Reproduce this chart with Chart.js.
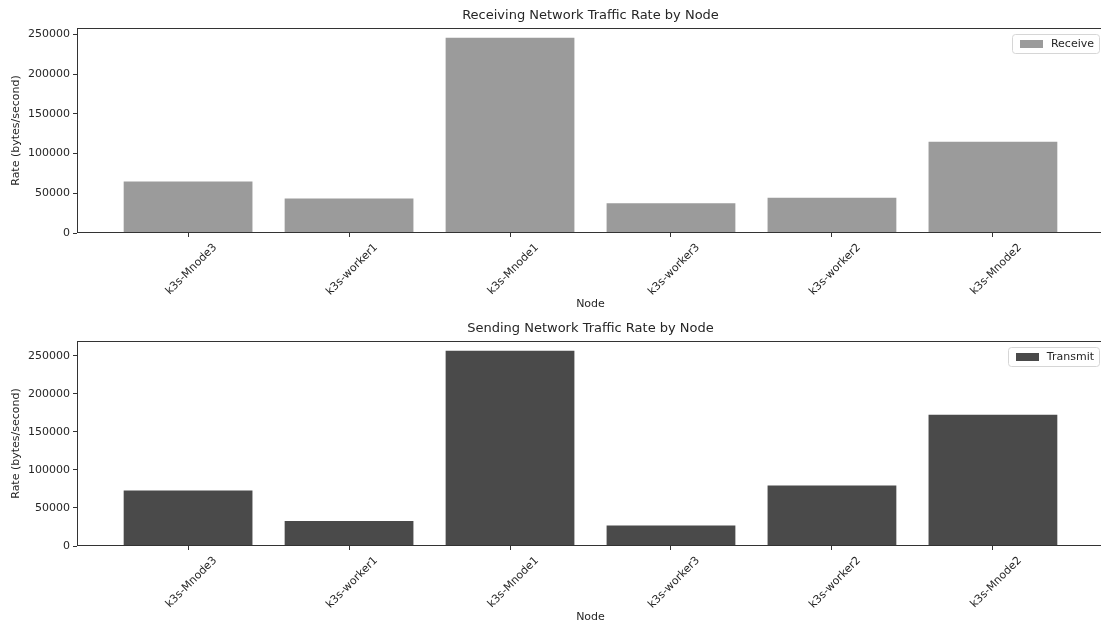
<!DOCTYPE html>
<html>
<head>
<meta charset="utf-8">
<script src="https://cdn.jsdelivr.net/npm/chart.js@4"></script>
<style>
  html, body { margin: 0; padding: 0; background: #fff; }
  #wrap { width: 1101px; height: 626px; overflow: hidden; }
  .panel { width: 1105px; height: 313px; }
  canvas { display: block; }
</style>
</head>
<body>
<div id="wrap">
  <div class="panel"><canvas id="rxChart" width="1105" height="313"></canvas></div>
  <div class="panel"><canvas id="txChart" width="1105" height="313"></canvas></div>
</div>
<script>
// Nodes in plotting order
const nodes = ['k3s-Mnode3', 'k3s-worker1', 'k3s-Mnode1', 'k3s-worker3', 'k3s-worker2', 'k3s-Mnode2'];

// Network rates per node, bytes/second
const receiveRates = [65000, 43500, 246000, 37500, 44500, 115000];
const transmitRates = [73000, 33000, 256500, 27000, 79500, 172500];

// Value-axis tick marks
const rateTicks = [0, 50000, 100000, 150000, 200000, 250000];

const FONT = 'DejaVu Sans';
const INK = '#262626';

// Panel title centred over the plot area
const panelTitle = {
  id: 'panelTitle',
  afterDraw(chart, args, opts) {
    const { ctx, chartArea } = chart;
    ctx.save();
    ctx.font = '13px "' + FONT + '"';
    ctx.fillStyle = INK;
    ctx.textAlign = 'center';
    ctx.textBaseline = 'middle';
    ctx.fillText(opts.text, (chartArea.left + chartArea.right) / 2, 16);
    ctx.restore();
  }
};

// Axes frame plus an in-plot legend at the upper right
const frames = {
  id: 'frames',
  afterDatasetsDraw(chart) {
    const { ctx, chartArea: a } = chart;
    ctx.save();
    ctx.strokeStyle = '#333';
    ctx.lineWidth = 1;
    ctx.strokeRect(Math.round(a.left) + 0.5, Math.round(a.top) + 0.5,
                   Math.round(a.right - a.left) - 1, Math.round(a.bottom - a.top) - 1);

    // legend entry for the single dataset
    const ds = chart.data.datasets[0];
    ctx.font = '11px "' + FONT + '"';
    const tw = ctx.measureText(ds.label).width;
    const right = a.right - 5;
    const top = a.top + 6;
    const h = 19;
    const w = 8 + 23 + 8 + tw + 5;
    const x = right - w;
    ctx.beginPath();
    ctx.roundRect(Math.round(x) + 0.5, top + 0.5, Math.round(w), h, 3);
    ctx.fillStyle = 'rgba(255,255,255,0.8)';
    ctx.fill();
    ctx.strokeStyle = '#d6d6d6';
    ctx.stroke();
    const cy = top + h / 2 + 0.5;
    ctx.fillStyle = ds.backgroundColor;
    ctx.fillRect(Math.round(x + 8), Math.round(cy - 4), 23, 8);
    ctx.fillStyle = INK;
    ctx.textAlign = 'left';
    ctx.textBaseline = 'middle';
    ctx.fillText(ds.label, x + 8 + 23 + 8, cy);
    ctx.restore();
  }
};

function makeChart(canvasId, title, label, values, color) {
  const points = nodes.map((n, i) => ({ x: i, y: values[i] }));
  const yMax = Math.max(...values) * 1.05;
  const n = nodes.length;
  const pad = 0.05 * (n - 1 + 0.8);
  return new Chart(document.getElementById(canvasId), {
    type: 'bar',
    data: {
      datasets: [{
        label: label,
        data: points,
        backgroundColor: color,
        borderWidth: 0,
        barPercentage: 0.8,
        categoryPercentage: 1.0
      }]
    },
    options: {
      responsive: false,
      animation: false,
      devicePixelRatio: 1,
      layout: { padding: { top: 28, left: 0, right: 1, bottom: 0 } },
      scales: {
        x: {
          type: 'linear',
          offset: false,
          min: -0.4 - pad,
          max: n - 1 + 0.4 + pad,
          afterBuildTicks(axis) { axis.ticks = nodes.map((_, i) => ({ value: i })); },
          afterFit(axis) { axis.height = 80; },
          grid: { display: true, offset: false, drawOnChartArea: false, drawTicks: true, tickLength: 4, color: '#333' },
          border: { display: false },
          ticks: {
            callback: (v) => nodes[v] !== undefined ? nodes[v] : '',
            minRotation: 45,
            maxRotation: 45,
            autoSkip: false,
            labelOffset: 27,
            padding: 4,
            color: INK,
            font: { family: FONT, size: 11 }
          },
          title: {
            display: true,
            text: 'Node',
            color: INK,
            padding: { top: 2, bottom: 2 },
            font: { family: FONT, size: 11 }
          }
        },
        y: {
          min: 0,
          max: yMax,
          afterBuildTicks(axis) { axis.ticks = rateTicks.map(v => ({ value: v })); },
          afterFit(axis) { axis.width = 77; },
          grid: { display: true, drawOnChartArea: false, drawTicks: true, tickLength: 4, color: '#333' },
          border: { display: false },
          ticks: {
            callback: (v) => String(v),
            padding: 3,
            color: INK,
            font: { family: FONT, size: 11 }
          },
          title: {
            display: true,
            text: 'Rate (bytes/second)',
            color: INK,
            padding: { top: 10, bottom: 10 },
            font: { family: FONT, size: 11 }
          }
        }
      },
      plugins: {
        panelTitle: { text: title },
        legend: { display: false },
        tooltip: { enabled: false }
      }
    },
    plugins: [frames, panelTitle]
  });
}

makeChart('rxChart', 'Receiving Network Traffic Rate by Node', 'Receive', receiveRates, '#9b9b9b');
makeChart('txChart', 'Sending Network Traffic Rate by Node', 'Transmit', transmitRates, '#4a4a4a');
</script>
</body>
</html>
